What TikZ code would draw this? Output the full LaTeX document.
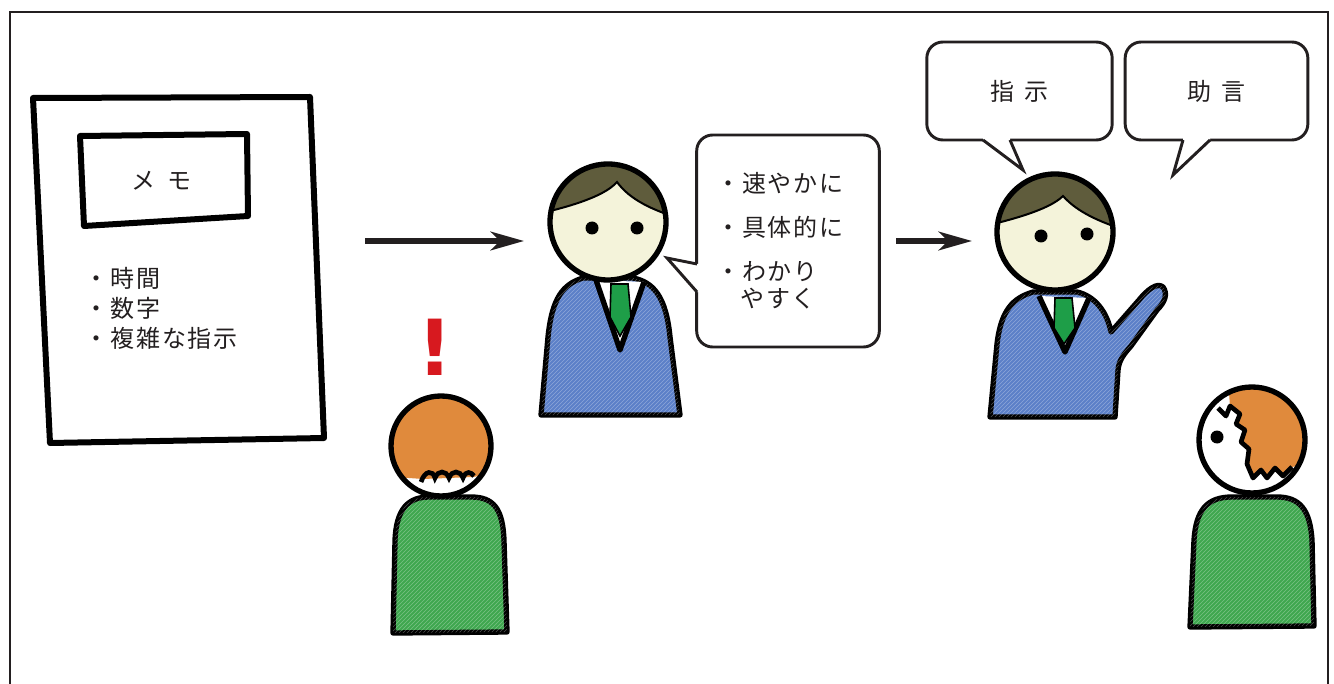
\documentclass[tikz,border=0pt]{standalone}
\usepackage{fontspec}
\setmainfont{Noto Sans CJK JP}[LetterSpace=8]
\newfontfamily\markfont{DejaVu Sans}
\usetikzlibrary{arrows.meta,patterns}

\definecolor{ink}{HTML}{231F20}
\definecolor{suitblue}{HTML}{5C80C8}
\definecolor{tiegreen}{HTML}{1E9E48}
\definecolor{shirtgreen}{HTML}{3FA74F}
\definecolor{hairdark}{HTML}{5F5C3C}
\definecolor{hairorange}{HTML}{E08A3C}
\definecolor{skin}{HTML}{F4F3DA}
\definecolor{alert}{HTML}{D7191F}

\tikzset{
  figline/.style={draw=black, line width=4pt, line join=round},
  sheetline/.style={draw=black, line width=4.5pt, line join=round},
  bubble/.style={draw=ink, line width=2.2pt, rounded corners=12pt, fill=white,
    inner sep=0pt, align=left, text=ink, font=\fontsize{18}{20}\selectfont},
  tail/.style={draw=ink, line width=2.2pt},
  flow/.style={draw=ink, line width=3.8pt, -{Stealth[length=25pt,width=14pt,inset=7pt]}},
  crayon/.style={pattern=north east lines, pattern color=white, opacity=.3},
}

\begin{document}
\begin{tikzpicture}[x=0.75pt,y=-0.75pt]
  \useasboundingbox (0,0) rectangle (1334,684);
  \draw[ink, line width=1.5pt] (10,684) |- (1328,12) -- (1328,684);

  % memo sheet
  \draw[sheetline] (33,98) -- (310,97) -- (324,438) -- (50,443) -- cycle;
  \draw[sheetline] (80,136) -- (247,134) -- (248,216) -- (84,226) -- cycle;
  \node[text=ink, font=\fontsize{18}{20}\selectfont] (memotitle) at (161,181) {メ\hspace{.5em}モ};
  \node[text=ink, anchor=west, inner sep=0pt, align=left, font=\fontsize{18}{22.5}\selectfont]
    (memolist) at (84,308) {・時間\\・数字\\・複雑な指示};

  % arrows
  \coordinate (memoout) at (365,241);
  \coordinate (staffin) at (524,241);
  \coordinate (staffout) at (896,241);
  \coordinate (bossin) at (972,241);
  \draw[flow] (memoout) -- (staffin);
  \draw[flow] (staffout) -- (bossin);

  % staff in the middle
  \begin{scope}[shift={(608,222)}]
    \filldraw[fill=suitblue, figline] (-67,193) -- (-60,115) .. controls (-56,76) and (-45,62) .. (-25,56)
      -- (25,56) .. controls (45,60) and (58,74) .. (62,115) -- (72,193) -- cycle;
    \fill[crayon] (-67,193) -- (-60,115) .. controls (-56,76) and (-45,62) .. (-25,56)
      -- (25,56) .. controls (45,60) and (58,74) .. (62,115) -- (72,193) -- cycle;
    \filldraw[fill=white, figline] (-12,58) -- (12,128) -- (36,60);
    \filldraw[fill=tiegreen, draw=black, line width=1.2pt] (3,62) -- (20,62) -- (23,95) -- (12,114) -- (2,95) -- cycle;
    \fill[skin] (0,0) circle[radius=58];
    \begin{scope}
      \clip (0,0) circle[radius=58];
      \filldraw[fill=hairdark, draw=black, line width=1.5pt] (-70,-8) .. controls (-45,-14) and (-5,-24) .. (9,-40)
        .. controls (22,-22) and (45,-12) .. (70,-4) -- (70,-70) -- (-70,-70) -- cycle;
    \end{scope}
    \draw[figline] (0,0) circle[radius=58];
    \fill (-16,6) circle[radius=6.5] (29,6) circle[radius=6.5];
  \end{scope}

  % boss on the right, raising a hand
  \begin{scope}[shift={(1055,232)}]
    \filldraw[fill=suitblue, figline] (-65,185) -- (-58,112) .. controls (-54,78) and (-42,66) .. (-22,60)
      -- (22,60) .. controls (40,64) and (52,80) .. (56,100) -- (84,68) .. controls (92,58) and (102,50) .. (108,55)
      .. controls (113,62) and (110,70) .. (102,78) -- (76,114) .. controls (69,122) and (64,128) .. (63,138)
      -- (60,185) -- cycle;
    \fill[crayon] (-65,185) -- (-58,112) .. controls (-54,78) and (-42,66) .. (-22,60)
      -- (22,60) .. controls (40,64) and (52,80) .. (56,100) -- (84,68) .. controls (92,58) and (102,50) .. (108,55)
      .. controls (113,62) and (110,70) .. (102,78) -- (76,114) .. controls (69,122) and (64,128) .. (63,138)
      -- (60,185) -- cycle;
    \filldraw[fill=white, figline] (-16,64) -- (10,120) -- (34,66);
    \filldraw[fill=tiegreen, draw=black, line width=1.2pt] (0,66) -- (17,66) -- (20,96) -- (9,112) -- (-1,96) -- cycle;
    \fill[skin] (0,0) circle[radius=58];
    \begin{scope}
      \clip (0,0) circle[radius=58];
      \filldraw[fill=hairdark, draw=black, line width=1.5pt] (-70,-6) .. controls (-45,-12) and (-6,-22) .. (8,-36)
        .. controls (22,-20) and (45,-10) .. (70,-2) -- (70,-70) -- (-70,-70) -- cycle;
    \end{scope}
    \draw[figline] (0,0) circle[radius=58];
    \fill (-14,4) circle[radius=6.5] (32,2) circle[radius=6.5];
  \end{scope}

  % newcomer under the memo
  \begin{scope}[shift={(441,446)}]
    \filldraw[fill=shirtgreen, figline] (-48,187) -- (-46,95) .. controls (-45,62) and (-32,51) .. (-12,51)
      -- (30,51) .. controls (52,51) and (62,62) .. (63,95) -- (66,186) -- cycle;
    \fill[crayon] (-48,187) -- (-46,95) .. controls (-45,62) and (-32,51) .. (-12,51)
      -- (30,51) .. controls (52,51) and (62,62) .. (63,95) -- (66,186) -- cycle;
    \fill[white] (0,0) circle[radius=50];
    \begin{scope}
      \clip (0,0) circle[radius=50];
      \fill[hairorange] (-60,-60) -- (60,-60) -- (60,26) -- (32,31) -- (-18,33) -- (-60,30) -- cycle;
    \end{scope}
    \draw[line width=3.5pt] (-20,36) .. controls (-16,24) and (-8,24) .. (-6,32)
      .. controls (-3,24) and (5,24) .. (8,32) .. controls (11,24) and (19,24) .. (22,32)
      .. controls (25,24) and (30,26) .. (33,30);
    \draw[figline] (0,0) circle[radius=50];
  \end{scope}
  \node[text=alert, anchor=base, inner sep=0pt, font=\markfont\bfseries\fontsize{58}{58}\selectfont]
    (alertmark) at (435,375) {!};

  % newcomer at the lower right
  \begin{scope}[shift={(1252,440)}]
    \filldraw[fill=shirtgreen, figline] (-62,187) -- (-58,100) .. controls (-56,70) and (-45,57) .. (-20,57)
      -- (25,57) .. controls (48,57) and (58,70) .. (60,100) -- (62,186) -- cycle;
    \fill[crayon] (-62,187) -- (-58,100) .. controls (-56,70) and (-45,57) .. (-20,57)
      -- (25,57) .. controls (48,57) and (58,70) .. (60,100) -- (62,186) -- cycle;
    \fill[white] (0,0) circle[radius=53];
    \begin{scope}
      \clip (0,0) circle[radius=53];
      \fill[hairorange] (-24,-60) -- (-22,-34) -- (-12,-26) -- (-16,-16) -- (-7,-10) -- (-11,2) -- (-3,9)
        -- (-5,24) -- (1,38) -- (9,30) -- (15,38) -- (23,28) -- (31,36) -- (40,27) -- (65,22) -- (65,-60) -- cycle;
    \end{scope}
    \draw[line width=3.5pt, line join=round] (-34,-32) -- (-26,-24) -- (-22,-34) -- (-12,-26) -- (-16,-16) -- (-7,-10)
      -- (-11,2) -- (-3,9) -- (-5,24) -- (1,38) -- (9,30) -- (15,38) -- (23,28) -- (31,36) -- (40,27);
    \draw[figline] (0,0) circle[radius=53];
    \fill (-35,-3) circle[radius=6.5];
  \end{scope}

  % speech bubbles
  \node[bubble, minimum width=137pt, minimum height=159pt] (tips) at (788,241)
    {・速やかに\hspace*{12pt}\\[13pt]・具体的に\\[13pt]・わかり\\\phantom{・}やすく};
  \coordinate (tipstail) at (667,258);
  \fill[white] (703,264) -- (697,264) -- (tipstail) -- (697,292) -- (703,292) -- cycle;
  \draw[tail] (697,264) -- (tipstail) -- (697,292);

  \node[bubble, minimum width=139pt, minimum height=73.5pt] (order) at (1019.5,91) {指\hspace{.4em}示};
  \coordinate (ordertail) at (1023,170);
  \fill[white] (983,134) -- (983,140) -- (ordertail) -- (1010,140) -- (1010,134) -- cycle;
  \draw[tail] (983,140) -- (ordertail) -- (1010,140);

  \node[bubble, minimum width=137pt, minimum height=73.5pt] (advice) at (1216.5,91) {助\hspace{.45em}言};
  \coordinate (advicetail) at (1173,175);
  \fill[white] (1183,134) -- (1183,140) -- (advicetail) -- (1210,140) -- (1210,134) -- cycle;
  \draw[tail] (1183,140) -- (advicetail) -- (1210,140);
\end{tikzpicture}
\end{document}
